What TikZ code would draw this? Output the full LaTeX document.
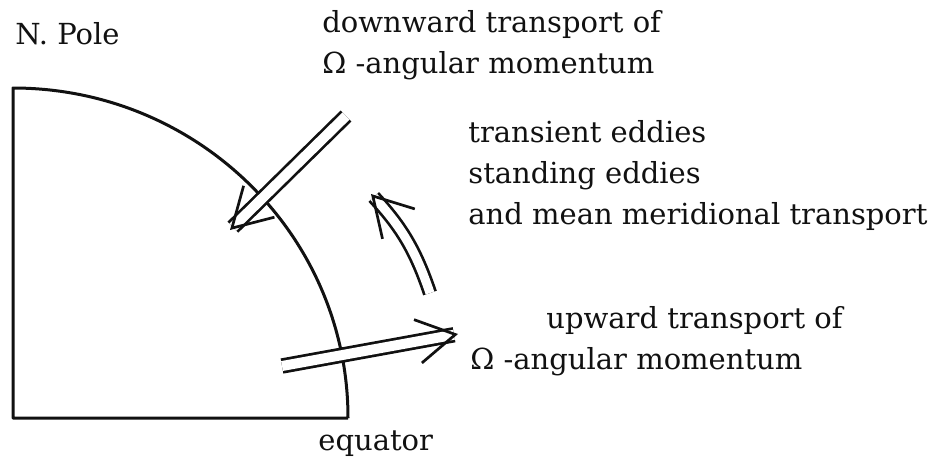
\documentclass[tikz,border=0pt]{standalone}
\usepackage{fontspec}
\setmainfont{DejaVu Serif}
\usepackage{tikz}
\usetikzlibrary{arrows.meta,positioning}
\definecolor{mmink}{HTML}{111111}
\tikzset{
  mmtext/.style={font=\fontsize{14.5pt}{20.5pt}\selectfont, text=mmink, inner sep=0pt,
                 align=left, anchor=north west},
  mmearth/.style={draw=mmink, line width=1.5pt, line join=round},
  mmflux/.style={draw=mmink, double, double distance=5pt, line width=1.35pt,
                 -{Straight Barb[length=19pt,width=22pt,line width=1.35pt]}},
}
\begin{document}
\begin{tikzpicture}[x=0.5pt,y=-0.5pt]
  \useasboundingbox (0,0) rectangle (937,463);
  % quadrant of the earth, pole at the top
  \coordinate (pole) at (13,88);
  \coordinate (centre) at (13,418);
  \coordinate (eq) at (348,418);
  \draw[mmearth] (eq) -- (centre) -- (pole)
    arc[start angle=-90, end angle=0, x radius=335, y radius=330];
  % labels
  \node[mmtext] (npole) at (15,22) {N. Pole};
  \node[mmtext] (equator) at (318,430) {equator};
  \node[mmtext] (down) at (322,10) {downward transport of\\Ω -angular momentum};
  \node[mmtext] (eddies) at (468,120) {transient eddies\\standing eddies\\and mean meridional transport};
  \node[mmtext] (up) at (470,306) {\hspace{38pt}upward transport of\\Ω -angular momentum};
  % fluxes
  \coordinate (dfrom) at (346,116);
  \coordinate (dto) at (230,230);
  \coordinate (ufrom) at (282,366);
  \coordinate (uto) at (458,334);
  \coordinate (cfrom) at (430,293);
  \coordinate (cto) at (371,194);
  \draw[mmflux] (dfrom) -- (dto);
  \draw[mmflux] (ufrom) -- (uto);
  \draw[mmflux, double distance=4.5pt] (cfrom) to[bend right=12] (cto);
\end{tikzpicture}
\end{document}
